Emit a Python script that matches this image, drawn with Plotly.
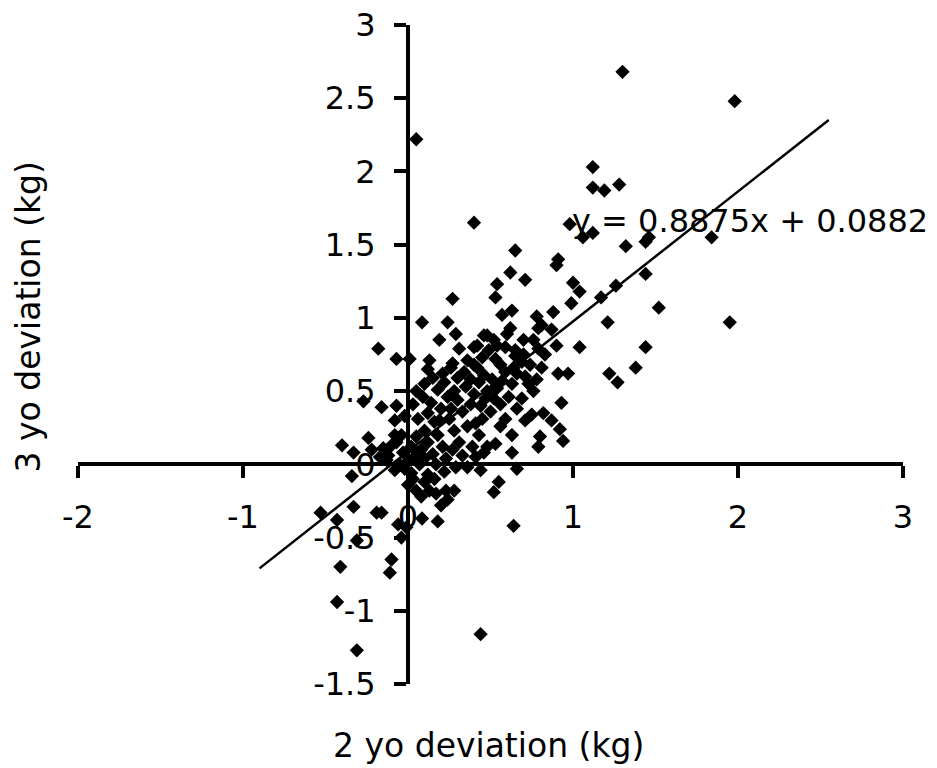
import plotly.graph_objects as go

# deviations (kg)
dev_2yo = [
    1.30, 1.98, 0.05, 1.12, 1.12, 1.19, 1.28, 0.40, 0.98, 1.06,
    1.12, 1.46, 1.44, 1.32, 1.84, 0.65, 0.91, 0.90, 1.44, 0.62,
    0.71, 0.54, 0.53, 1.00, 1.04, 0.99, 1.26, 1.17, 1.52, 0.27,
    0.63, 0.57, 0.78, 0.81, 0.88, 1.21, 1.95, 0.62, 0.60, 0.87,
    0.48, 0.54, 0.90, 1.04, 1.44, 0.76, 0.79, 0.83, 0.65, 1.38,
    0.91, 0.97, 1.22, 1.27, 0.085, 0.24, 0.29, 0.19, -0.18, -0.07,
    0.01, 0.13, 0.31, 0.40, 0.40, 0.27, 0.21,
    0.93, 0.75, 0.82, 0.87, 0.92, 0.94, 0.80, 0.79, 0.63, 0.66,
    0.48, 0.53, 0.55, 0.52, 0.64, 0.44,
    -0.27, -0.16, -0.07, -0.40, -0.33, -0.24, -0.34, -0.22, -0.17, -0.13,
    -0.08, -0.08, -0.07, -0.53, -0.33, -0.19, -0.16, -0.06, -0.01, -0.04,
    0.085, 0.18, 0.05, 0.13, 0.23, 0.28, 0.03, 0.10, 0.16, -0.41,
    -0.10, -0.11, -0.43, -0.31, -0.31, -0.43, 0.20, 0.24,
    0.46, 0.52, 0.79, 0.70, 0.42,
    0.00, 0.04, 0.07, 0.10, -0.03, 0.02, 0.08, 0.12, 0.15, 0.05,
    0.10, 0.18, 0.21, 0.23, 0.16, 0.06, 0.12, -0.04, -0.02, 0.03,
    0.09, 0.14, 0.20, 0.25, 0.28, 0.31, 0.27, 0.33, 0.36, 0.33,
    0.38, 0.24, 0.18, 0.22, 0.28, 0.30, 0.35, 0.40, 0.43, 0.46,
    0.51, 0.48, 0.52, 0.56, 0.50, 0.45, 0.41, 0.43, 0.39, 0.56,
    0.59, 0.61, 0.63, 0.59, 0.56, 0.66, 0.69, 0.71, 0.73, 0.76,
    0.78, 0.81, 0.69, 0.66, 0.71, 0.63, 0.34, 0.26, 0.15, 0.10,
    0.05, 0.12, 0.36, 0.45, 0.49, 0.53, 0.59, 0.65, 0.17, 0.22,
    0.29, 0.12, 0.00, 0.08, 0.17, 0.36, 0.41, 0.46, 0.44, -0.12,
    -0.08, -0.05, -0.15, -0.10, -0.02, 0.02, 0.70, 0.74, 0.44, 0.47,
    0.30, 0.19, 0.26, 0.54, 0.57, 0.64, 0.38, 0.42,
]
dev_3yo = [
    2.68, 2.48, 2.22, 2.03, 1.89, 1.87, 1.91, 1.65, 1.64, 1.55,
    1.58, 1.55, 1.52, 1.49, 1.55, 1.46, 1.40, 1.36, 1.30, 1.31,
    1.26, 1.23, 1.14, 1.24, 1.18, 1.10, 1.22, 1.14, 1.07, 1.13,
    1.05, 1.02, 1.01, 0.95, 1.04, 0.97, 0.97, 0.93, 0.89, 0.92,
    0.88, 0.81, 0.81, 0.80, 0.80, 0.85, 0.79, 0.75, 0.74, 0.66,
    0.62, 0.62, 0.62, 0.56, 0.97, 0.97, 0.89, 0.85, 0.79, 0.72,
    0.72, 0.71, 0.79, 0.80, 0.68, 0.69, 0.62,
    0.42, 0.34, 0.35, 0.30, 0.24, 0.16, 0.19, 0.12, 0.08, -0.03,
    0.12, 0.14, -0.12, -0.19, -0.42, -1.16,
    0.43, 0.39, 0.40, 0.13, 0.08, 0.18, -0.08, 0.10, 0.05, 0.03,
    0.30, 0.20, 0.15, -0.33, -0.29, -0.33, -0.33, -0.41, -0.43, -0.50,
    -0.37, -0.39, -0.18, -0.18, -0.18, -0.18, -0.10, -0.12, -0.10, -0.70,
    -0.65, -0.74, -0.94, -1.27, -0.52, -0.38, -0.28, -0.24,
    0.88, 0.85, 0.93, 0.85, 0.81,
    0.02, 0.05, 0.00, 0.04, 0.08, 0.12, 0.10, 0.15, 0.07, 0.19,
    0.23, 0.20, 0.12, 0.04, 0.29, 0.31, 0.35, 0.20, 0.33, 0.41,
    0.46, 0.42, 0.38, 0.31, 0.23, 0.15, 0.10, 0.06, 0.26, 0.36,
    0.41, 0.46, 0.51, 0.56, 0.50, 0.59, 0.53, 0.48, 0.56, 0.61,
    0.58, 0.50, 0.45, 0.41, 0.36, 0.31, 0.28, 0.20, 0.12, 0.26,
    0.31, 0.46, 0.55, 0.63, 0.68, 0.62, 0.70, 0.60, 0.55, 0.50,
    0.58, 0.66, 0.45, 0.38, 0.30, 0.20, 0.63, 0.66, 0.59, 0.55,
    0.50, 0.65, 0.71, 0.73, 0.78, 0.72, 0.80, 0.78, 0.00, -0.05,
    -0.02, -0.07, -0.14, -0.22, -0.20, -0.02, 0.05, 0.08, -0.04, 0.06,
    -0.04, 0.00, 0.11, 0.13, -0.03, -0.06, 0.75, 0.68, 0.40, 0.45,
    0.44, 0.30, 0.38, 0.52, 0.57, 0.66, 0.58, 0.66,
]

slope = 0.8875
intercept = 0.0882
trend_x = [-0.9, 2.55]

x_ticks = [-2, -1, 0, 1, 2, 3]
x_tick_text = ['-2', '-1', '0', '1', '2', '3']
y_ticks = [-1.5, -1, -0.5, 0, 0.5, 1, 1.5, 2, 2.5, 3]
y_tick_text = ['-1.5', '-1', '-0.5', '0', '0.5', '1', '1.5', '2', '2.5', '3']

FONT = 'DejaVu Sans'

fig = go.Figure()
fig.add_trace(go.Scatter(
    x=dev_2yo, y=dev_3yo, mode='markers',
    marker=dict(symbol='diamond', size=11, color='black', line=dict(width=0)),
))
fig.add_trace(go.Scatter(
    x=trend_x, y=[slope * v + intercept for v in trend_x], mode='lines',
    line=dict(color='black', width=2.5),
))

axis_style = dict(
    showline=True, linecolor='black', linewidth=4,
    ticks='outside', ticklen=12, tickwidth=4, tickcolor='black',
    showgrid=False, zeroline=False, automargin=False,
    ticklabeloverflow='allow',
    tickfont=dict(family=FONT, size=32, color='black'),
)

# page body keeps its default 8px margin, so the figure is 8px smaller
fig.update_layout(
    width=929, height=760,
    margin=dict(l=70, r=34, t=17, b=84),
    paper_bgcolor='white', plot_bgcolor='white',
    showlegend=False,
    xaxis=dict(range=[-2, 3], anchor='free', position=1 / 3,
               tickvals=x_ticks, ticktext=x_tick_text, ticklabelstandoff=11,
               **axis_style),
    yaxis=dict(range=[-1.5, 3], anchor='free', position=0.4,
               tickvals=y_ticks, ticktext=y_tick_text, ticklabelstandoff=12,
               **axis_style),
    annotations=[
        dict(text='y = 0.8875x + 0.0882', x=0.98, y=1.66, xref='x', yref='y',
             xanchor='left', yanchor='middle', showarrow=False,
             font=dict(family=FONT, size=32, color='black')),
        dict(text='2 yo deviation (kg)', x=0.498, y=-0.093, xref='paper', yref='paper',
             xanchor='center', yanchor='middle', showarrow=False,
             font=dict(family=FONT, size=33, color='black')),
        dict(text='3 yo deviation (kg)', x=-0.06, y=0.557, xref='paper', yref='paper',
             xanchor='center', yanchor='middle', showarrow=False, textangle=-90,
             font=dict(family=FONT, size=33, color='black')),
    ],
)

fig.write_html('out.html')
